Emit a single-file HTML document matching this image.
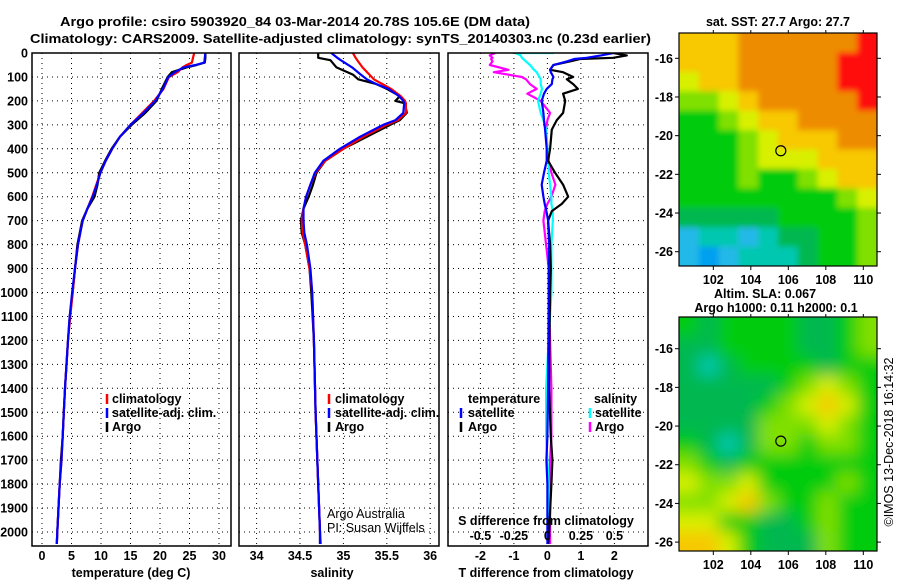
<!DOCTYPE html>
<html><head><meta charset="utf-8"><style>
html,body{margin:0;padding:0;background:#fff}
svg{display:block}
text{font-family:"Liberation Sans",sans-serif;font-weight:bold;font-size:12.5px;fill:#000}
.n{font-weight:normal}
</style></head><body>
<svg id="fig" width="900" height="580" viewBox="0 0 900 580" xmlns="http://www.w3.org/2000/svg">
<defs>
<clipPath id="c1"><rect x="32" y="53" width="199" height="493"/></clipPath>
<clipPath id="c2"><rect x="239" y="53" width="200" height="493"/></clipPath>
<clipPath id="c3"><rect x="448" y="53" width="200" height="493"/></clipPath>
<clipPath id="cm1"><rect x="679" y="33" width="198" height="233"/></clipPath>
<clipPath id="cm2"><rect x="679" y="317" width="198" height="234"/></clipPath>
<filter id="bl1" x="-10%" y="-10%" width="120%" height="120%"><feGaussianBlur stdDeviation="3"/></filter>
<filter id="bl2" x="-10%" y="-10%" width="120%" height="120%"><feGaussianBlur stdDeviation="8"/></filter>
</defs>
<text x="60" y="26" textLength="470" lengthAdjust="spacingAndGlyphs" font-size="15">Argo profile: csiro 5903920_84 03-Mar-2014 20.78S 105.6E (DM data)</text>
<text x="30" y="43" textLength="621" lengthAdjust="spacingAndGlyphs" font-size="15">Climatology: CARS2009. Satellite-adjusted climatology: synTS_20140303.nc (0.23d earlier)</text>
<text x="778" y="26" text-anchor="middle">sat. SST: 27.7 Argo: 27.7</text>
<text x="765" y="298" text-anchor="middle">Altim. SLA: 0.067</text>
<text x="776" y="312" text-anchor="middle">Argo h1000: 0.11 h2000: 0.1</text>
<text class="n" transform="translate(893,442) rotate(-90)" text-anchor="middle">©IMOS 13-Dec-2018 16:14:32</text>
<g id="g"></g>
</svg>
<script>
// ---- data ----
const depthTicks=[0,100,200,300,400,500,600,700,800,900,1000,1100,1200,1300,1400,1500,1600,1700,1800,1900,2000];
const tTicks=[0,5,10,15,20,25,30];
const sTicks=[34,34.5,35,35.5,36];
const sTickLabels=["34","34.5","35","35.5","36"];
const dtTicks=[-2,-1,0,1,2];
const dsTicks=[-0.5,-0.25,0,0.25,0.5];
const dsTickLabels=["-0.5","-0.25","0","0.25","0.5"];

const tDepth=[0,20,40,50,60,80,100,150,200,250,300,350,400,450,500,550,600,650,700,750,800,900,1000,1100,1200,1400,1500,1600,1700,1800,1900,2000,2050];
const tArgo=[27.7,27.7,27.6,26.2,24.5,22.0,21.3,20.3,19.4,17.5,15.2,13.2,11.8,10.7,9.7,9.4,8.9,7.7,6.8,6.4,6.0,5.6,5.2,4.7,4.4,3.9,3.7,3.5,3.2,3.0,2.8,2.6,2.5];
const tClim=[25.8,25.6,25.4,24.5,23.8,23.0,21.5,20.6,19.0,17.0,15.0,13.2,11.9,10.8,9.9,9.2,8.5,7.7,6.9,6.5,6.1,5.6,5.2,4.8,4.4,3.9,3.7,3.5,3.3,3.0,2.8,2.6,2.5];
const tSat=[27.7,27.6,27.5,26.0,24.0,22.5,21.4,20.5,19.2,17.2,15.0,13.2,11.9,10.8,9.9,9.3,8.6,7.7,6.9,6.5,6.1,5.6,5.1,4.7,4.4,3.9,3.7,3.5,3.3,3.0,2.8,2.6,2.5];

const sDepth=[0,20,30,60,90,110,130,150,180,200,210,250,280,300,350,400,450,500,550,600,650,700,750,800,900,1000,1200,1500,1800,2000,2050];
const sArgo=[34.71,34.71,34.85,34.92,35.11,35.17,35.38,35.50,35.65,35.60,35.71,35.73,35.65,35.54,35.27,35.0,34.79,34.69,34.65,34.60,34.54,34.51,34.52,34.56,34.61,34.63,34.66,34.68,34.71,34.73,34.73];
const sClim=[35.11,35.14,35.16,35.22,35.30,35.35,35.45,35.55,35.66,35.71,35.72,35.72,35.63,35.50,35.23,35.0,34.79,34.68,34.62,34.57,34.54,34.52,34.53,34.56,34.61,34.64,34.66,34.68,34.71,34.73,34.74];
const sSat=[34.86,34.93,34.97,35.10,35.20,35.27,35.38,35.52,35.64,35.69,35.70,35.69,35.60,35.46,35.19,34.96,34.77,34.67,34.62,34.57,34.54,34.54,34.55,34.58,34.62,34.64,34.66,34.68,34.71,34.73,34.73];

const dDepth=[0,10,20,25,35,50,70,80,100,110,130,150,170,200,250,280,320,400,450,500,550,600,630,660,700,800,900,1000,1200,1400,1600,1700,1800,2000,2050];
const dtArgo=[1.97,2.37,1.96,0.97,0.67,0.18,0.08,0.47,0.77,0.58,0.77,0.91,0.47,0.53,0.47,0.28,0.13,0.08,0.02,0.23,0.47,0.62,0.43,0.13,0.02,0.08,0.1,0.08,0.06,0.05,0.1,0.15,0.12,0.05,0.03];
const dtSat=[1.97,1.6,1.17,0.8,0.58,0.18,0.08,0.1,0.18,0.15,0.13,-0.02,-0.1,-0.17,-0.12,-0.1,-0.07,-0.02,-0.02,-0.1,-0.17,-0.12,-0.08,-0.03,0.02,0.05,0.04,0.04,0.03,0.02,0.0,-0.03,0.0,0.0,0.0];
const dsArgo=[-0.39,-0.43,-0.41,-0.42,-0.41,-0.43,-0.29,-0.40,-0.19,-0.16,-0.13,-0.08,-0.15,-0.05,0.02,0.0,-0.01,0.0,0.01,0.03,0.06,0.03,0.0,-0.02,-0.03,-0.01,0.01,0.01,0.02,0.03,0.03,0.02,0.02,0.02,0.02];
const dsSat=[-0.24,-0.2,-0.19,-0.18,-0.16,-0.13,-0.1,-0.08,-0.06,-0.05,-0.05,-0.04,-0.05,-0.07,-0.05,-0.03,-0.01,0,0.01,0.01,0.02,0.03,0.03,0.04,0.04,0.03,0.03,0.03,0.01,-0.01,-0.01,0,0.01,0.01,0.01];
const dsSatSurface=[0.05,-0.24];

const mapLonTicks=[102,104,106,108,110];
const mapLatTicks=[-16,-18,-20,-22,-24,-26];
const argoLon=105.6, argoLat=-20.78;
const sstGrid=[
[7,7,7,8,8,8,8,8,8,9],
[7,7,7,8,8,8,8,8,9,9],
[6,7,7,8,8,8,8,8,9,9],
[5,5,6,7,8,8,8,8,8,9],
[4,4,5,6,7,7,8,8,8,8],
[4,4,4,5,6,7,7,7,8,8],
[4,4,4,5,6,6,6,7,7,7],
[4,4,4,5,4,4,5,6,7,7],
[4,4,4,4,4,4,4,4,5,6],
[3,3,3,3,3,4,4,4,4,5],
[1,2,2,1,2,3,3,4,4,5],
[1,0,1,2,2,2,3,4,4,5]];
const slaGrid=[
[4,3,4,4,4,4,3,3,4,5],
[3,3,4,4,4,4,3,3,4,5],
[3,2,3,4,4,4,4,3,4,4],
[3,3,3,3,3,4,5,6,5,4],
[3,3,3,3,4,5,6,7,6,4],
[3,3,3,3,5,5,5,6,5,4],
[4,3,2,3,5,5,4,5,5,4],
[5,4,3,4,4,4,4,4,4,4],
[6,5,5,6,4,4,4,4,5,4],
[5,5,6,7,5,4,4,5,4,4],
[6,6,4,4,3,3,4,5,4,4],
[7,7,6,4,3,3,3,5,4,4]];
const palette=["#00a0f0","#20b8e8","#00c8b0","#00b850","#00cc10","#80e000","#d8f000","#f8c800","#ee8c00","#ff1010"];

// ---- helpers ----
const NS="http://www.w3.org/2000/svg";
const G=document.getElementById('g');
function el(tag,attrs,parent){const e=document.createElementNS(NS,tag);for(const k in attrs)e.setAttribute(k,attrs[k]);(parent||G).appendChild(e);return e;}
const yD=d=>53+d*0.2395;
const xT=v=>42+v*5.9;
const xS=v=>300+(v-34.5)*86.8;
const xDT=v=>547.4+v*33.5;
const xDS=v=>547.4+v*134;

const panels=[{x:32,w:199,clip:'c1'},{x:239,w:200,clip:'c2'},{x:448,w:200,clip:'c3'}];

function grid(p,xs,fx){
  const gg=el('g',{});
  
  
  depthTicks.forEach(d=>{if(d>0){el('line',{x1:p.x,x2:p.x+p.w,y1:yD(d),y2:yD(d),stroke:'#000','stroke-width':1,'stroke-dasharray':'1 4'},gg);}});
  xs.forEach(v=>{el('line',{x1:fx(v),x2:fx(v),y1:53,y2:546,stroke:'#000','stroke-width':1,'stroke-dasharray':'1 4'},gg);});
}
function frame(p,name){
  const r=el('rect',{x:p.x,y:53,width:p.w,height:493,fill:'none',stroke:'#000','stroke-width':1.5});
  
  
}
function line(depths,vals,fx,color,clip,name){
  const pts=depths.map((d,i)=>fx(vals[i]).toFixed(1)+','+yD(d).toFixed(1)).join(' ');
  const pl=el('polyline',{points:pts,fill:'none',stroke:color,'stroke-width':2.2,'clip-path':'url(#'+clip+')','stroke-linejoin':'round'});
  
  
}
function xlabels(vals,labels,fx,y,name){
  vals.forEach((v,i)=>{const t=el('text',{x:fx(v),y:y,'text-anchor':'middle'});t.textContent=labels?labels[i]:String(v);
    
    });
}
function txt(x,y,s,name,cls){const t=el('text',{x:x,y:y});if(cls)t.setAttribute('class',cls);t.textContent=s;
  
  return t;}
function legBar(x,y,color,name){const l=el('line',{x1:x,x2:x,y1:y-10,y2:y,stroke:color,'stroke-width':2.5});
  
  }

// depth labels
depthTicks.forEach(d=>{const t=el('text',{x:28,y:yD(d)+4.5,'text-anchor':'end'});t.textContent=String(d);
  
  });

// panel 1 temperature
grid(panels[0],tTicks,xT);
line(tDepth,tArgo,xT,'#000','c1','temperature-argo-line');
line(tDepth,tClim,xT,'#f00','c1','temperature-climatology-line');
line(tDepth,tSat,xT,'#00f','c1','temperature-satellite-line');
frame(panels[0],'temperature-panel');
xlabels(tTicks,null,xT,560,'temperature-tick-label');
txt(131,577,'temperature (deg C)','temperature-axis-title').setAttribute('text-anchor','middle');
legBar(107,404,'#f00','legend-climatology-swatch');txt(112,403,'climatology','legend-climatology');
legBar(107,418,'#00f','legend-satellite-swatch');txt(112,417,'satellite-adj. clim.','legend-satellite');
legBar(107,432,'#000','legend-argo-swatch');txt(112,431,'Argo','legend-argo');

// panel 2 salinity
grid(panels[1],sTicks,xS);
line(sDepth,sArgo,xS,'#000','c2','salinity-argo-line');
line(sDepth,sClim,xS,'#f00','c2','salinity-climatology-line');
line(sDepth,sSat,xS,'#00f','c2','salinity-satellite-line');
frame(panels[1],'salinity-panel');
xlabels(sTicks,sTickLabels,xS,560,'salinity-tick-label');
txt(332,577,'salinity','salinity-axis-title').setAttribute('text-anchor','middle');
legBar(329,404,'#f00','legend-climatology-swatch');txt(335,403,'climatology','legend-climatology');
legBar(329,418,'#00f','legend-satellite-swatch');txt(335,417,'satellite-adj. clim.','legend-satellite');
legBar(329,432,'#000','legend-argo-swatch');txt(335,431,'Argo','legend-argo');
txt(327,518,'Argo Australia','credit-argo-australia','n');
txt(327,532,'PI: Susan Wijffels','credit-pi','n');

// panel 3 differences
grid(panels[2],dtTicks,xDT);
line(dDepth,dsArgo,xDS,'#f0f','c3','salinity-diff-argo-line');
line([0,0],dsSatSurface,xDS,'#0ff','c3','salinity-diff-satellite-surface');
line(dDepth,dsSat,xDS,'#0ff','c3','salinity-diff-satellite-line');
line(dDepth,dtArgo,xDT,'#000','c3','temperature-diff-argo-line');
line(dDepth,dtSat,xDT,'#00f','c3','temperature-diff-satellite-line');
frame(panels[2],'difference-panel');
xlabels(dtTicks,null,xDT,560,'t-diff-tick-label');
txt(546,577,'T difference from climatology','t-diff-axis-title').setAttribute('text-anchor','middle');
txt(546,525,'S difference from climatology','s-diff-axis-title').setAttribute('text-anchor','middle');
xlabels(dsTicks,dsTickLabels,xDS,540,'s-diff-tick-label');
txt(468,403,'temperature','legend-temperature-heading');
legBar(461,418,'#00f','legend-t-satellite-swatch');txt(468,417,'satellite','legend-t-satellite');
legBar(461,432,'#000','legend-t-argo-swatch');txt(468,431,'Argo','legend-t-argo');
txt(594,403,'salinity','legend-salinity-heading');
legBar(590,418,'#0ff','legend-s-satellite-swatch');txt(595,417,'satellite','legend-s-satellite');
legBar(590,432,'#f0f','legend-s-argo-swatch');txt(595,431,'Argo','legend-s-argo');

// maps
const lonL=100.17,lonR=110.73;
const xLon=v=>679+(v-lonL)*(198/(lonR-lonL));
function drawMap(grid,top,bottom,lat16y,clip,filt,name){
  const yLat=v=>lat16y+(-16-v)*19.34;
  const rows=grid.length, cols=grid[0].length;
  const cw=198/cols, ch=(bottom-top)/rows;
  const cg=el('g',{'clip-path':'url(#'+clip+')'});
  const gg=el('g',{filter:'url(#'+filt+')'},cg);
  
  
  grid.forEach((row,r)=>row.forEach((v,c)=>{
    let x=679+c*cw,y=top+r*ch,w=cw+0.6,h=ch+0.6;
    if(c===0){x-=20;w+=20;} if(c===cols-1){w+=20;}
    if(r===0){y-=20;h+=20;} if(r===rows-1){h+=20;}
    const rc=el('rect',{x:x,y:y,width:w,height:h,fill:palette[v]},gg);
    
    
  }));
  const fr=el('rect',{x:679,y:top,width:198,height:bottom-top,fill:'none',stroke:'#000','stroke-width':1.2});
  
  
  mapLonTicks.forEach(v=>{
    el('line',{x1:xLon(v),x2:xLon(v),y1:bottom,y2:bottom+4,stroke:'#000'});
    el('line',{x1:xLon(v),x2:xLon(v),y1:top,y2:top-3,stroke:'#000'});
    const t=el('text',{x:xLon(v),y:bottom+18,'text-anchor':'middle'});t.textContent=String(v);
    
    
  });
  mapLatTicks.forEach(v=>{
    el('line',{x1:679,x2:675,y1:yLat(v),y2:yLat(v),stroke:'#000'});
    el('line',{x1:877,x2:881,y1:yLat(v),y2:yLat(v),stroke:'#000'});
    const t=el('text',{x:673,y:yLat(v)+4.5,'text-anchor':'end'});t.textContent=String(v);
    
    
  });
  const c=el('circle',{cx:xLon(argoLon),cy:yLat(argoLat),r:5,fill:'none',stroke:'#000','stroke-width':1.2});
  
  
}
drawMap(sstGrid,33,266,58.3,'cm1','bl1','sst-map');
drawMap(slaGrid,317,551,348.7,'cm2','bl2','sla-map');
</script>
</body></html>
